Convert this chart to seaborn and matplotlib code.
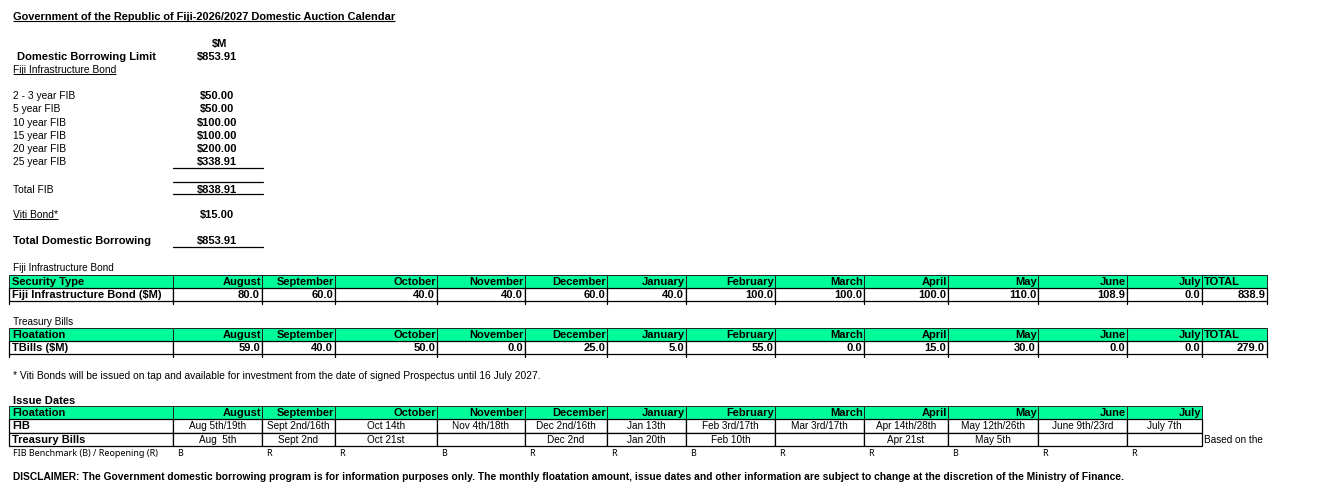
import matplotlib
matplotlib.use('Agg')
import matplotlib.pyplot as plt
from matplotlib.patches import Rectangle
import seaborn as sns

months = ['August', 'September', 'October', 'November', 'December', 'January',
          'February', 'March', 'April', 'May', 'June', 'July']
fib_amounts = [80.0, 60.0, 40.0, 40.0, 60.0, 40.0, 100.0, 100.0, 100.0, 110.0, 108.9, 0.0]
tbill_amounts = [59.0, 40.0, 50.0, 0.0, 25.0, 5.0, 55.0, 0.0, 15.0, 30.0, 0.0, 0.0]
fib_dates = ['Aug 5th/19th', 'Sept 2nd/16th', 'Oct 14th', 'Nov 4th/18th', 'Dec 2nd/16th',
             'Jan 13th', 'Feb 3rd/17th', 'Mar 3rd/17th', 'Apr 14th/28th', 'May 12th/26th',
             'June 9th/23rd', 'July 7th']
tbill_dates = ['Aug  5th', 'Sept 2nd', 'Oct 21st', '', 'Dec 2nd', 'Jan 20th', 'Feb 10th',
               '', 'Apr 21st', 'May 5th', '', '']
benchmark = ['B', 'R', 'R', 'B', 'R', 'R', 'B', 'R', 'R', 'B', 'R', 'R']
fib_tenors = ['2 - 3 year FIB', '5 year FIB', '10 year FIB', '15 year FIB',
              '20 year FIB', '25 year FIB']
fib_limits = [50.00, 50.00, 100.00, 100.00, 200.00, 338.91]
viti_bond = 15.00
borrowing_limit = 853.91

total_fib = sum(fib_limits)
total_borrowing = total_fib + viti_bond

title = 'Government of the Republic of Fiji-2026/2027 Domestic Auction Calendar'
footnote = ('* Viti Bonds will be issued on tap and available for investment from the date '
            'of signed Prospectus until 16 July 2027.')
disclaimer = ('DISCLAIMER: The Government domestic borrowing program is for information purposes '
              'only. The monthly floatation amount, issue dates and other information are subject '
              'to change at the discretion of the Ministry of Finance.')

sns.set_theme(style='white')
plt.rcParams['font.family'] = ['Liberation Sans', 'DejaVu Sans']
plt.rcParams['text.color'] = 'black'

GREEN = '#00FC98'
SANS = 'Liberation Sans'

fig = plt.figure(figsize=(13.2, 5.01), dpi=100)
ax = fig.add_axes([0, 0, 1, 1])
ax.set_xlim(0, 1320)
ax.set_ylim(501, 0)
ax.axis('off')
sns.despine(ax=ax, left=True, bottom=True)
renderer = fig.canvas.get_renderer()


def fit(s, target, **kw):
    # font size giving the pixel width seen in the reference
    t = ax.text(0, 0, s, size=10, **kw)
    w = t.get_window_extent(renderer).width
    t.remove()
    return 10 * target / w


TB = dict(family=SANS, weight='bold',
          size=fit('Fiji Infrastructure Bond ($M)', 150, family=SANS, weight='bold'))
TR = dict(family=SANS, size=fit('Sept 2nd/16th', 62, family=SANS))
AR = dict(family=SANS, size=fit(footnote, 529, family=SANS))
SM = dict(family='Noto Sans', size=fit('FIB Benchmark (B) / Reopening (R)', 145, family='Noto Sans'))

# column edges of the three month tables (pixels)
edges = [9, 173, 262, 335, 437, 525, 607, 686, 775, 864, 948, 1038, 1127, 1202, 1267]


def put(x, y, s, ha='left', **kw):
    # y is the visual middle of the capitals
    return ax.text(x, y + 3.6, s, ha=ha, va='baseline', color='black', **kw)


def underline(t, lw=0.8):
    bb = t.get_window_extent(renderer)
    inv = ax.transData.inverted()
    (x0, _), (x1, _) = inv.transform([[bb.x0, bb.y0], [bb.x1, bb.y1]])
    y = t.get_position()[1] + 1.8
    ax.plot([x0, x1], [y, y], color='black', lw=lw, solid_capstyle='butt')


def header_row(y0, y1, first, ncols):
    for i in range(ncols):
        ax.add_patch(Rectangle((edges[i], y0), edges[i + 1] - edges[i], y1 - y0,
                               facecolor=GREEN, edgecolor='#222222', lw=0.7))
    yc = (y0 + y1) / 2
    put(edges[0] + 3, yc, first, **TB)
    for i, m in enumerate(months):
        put(edges[i + 2] - 1, yc, m, ha='right', **TB)
    if ncols == 14:
        put(edges[13] + 2, yc, 'TOTAL', **TB)


def amount_row(y0, y1, label, values):
    for i in range(14):
        ax.add_patch(Rectangle((edges[i], y0), edges[i + 1] - edges[i], y1 - y0,
                               facecolor='white', edgecolor='black', lw=0.9))
        ax.plot([edges[i], edges[i]], [y1, y1 + 3], color='black', lw=0.9)
    ax.plot([edges[14], edges[14]], [y1, y1 + 3], color='black', lw=0.9)
    yc = (y0 + y1) / 2
    put(edges[0] + 3, yc, label, **TB)
    for i, v in enumerate(list(values) + [sum(values)]):
        put(edges[i + 2] - 2, yc, f'{v:.1f}', ha='right', **TB)


def date_row(y0, y1, label, dates):
    for i in range(13):
        ax.add_patch(Rectangle((edges[i], y0), edges[i + 1] - edges[i], y1 - y0,
                               facecolor='white', edgecolor='black', lw=0.9))
    yc = (y0 + y1) / 2
    put(edges[0] + 3, yc, label, **TB)
    for i, d in enumerate(dates):
        put((edges[i + 1] + edges[i + 2]) / 2, yc, d, ha='center', **TR)


# title
t = put(13, 16, title, family=SANS, weight='bold',
        size=fit(title, 383, family=SANS, weight='bold'))
underline(t)

# borrowing summary
val_x = 217
put(val_x + 3, 43, '$M', ha='center', **TB)
put(17, 56, 'Domestic Borrowing Limit', **TB)
put(val_x, 56, f'${borrowing_limit:.2f}', ha='center', **TB)
t = put(13, 69, 'Fiji Infrastructure Bond', **AR)
underline(t, lw=0.7)

for i, (name, v) in enumerate(zip(fib_tenors, fib_limits)):
    y = 95.5 + i * 13.2
    put(13, y, name, **AR)
    put(val_x, y, f'${v:.2f}', ha='center', **TB)

for y in [168, 181.5, 194, 247]:
    ax.plot([173, 263], [y, y], color='black', lw=0.9)

put(13, 189, 'Total FIB', **AR)
put(val_x, 189, f'${total_fib:.2f}', ha='center', **TB)
t = put(13, 214, 'Viti Bond*', **AR)
underline(t, lw=0.7)
put(val_x, 214, f'${viti_bond:.2f}', ha='center', **TB)
put(13, 240.5, 'Total Domestic Borrowing', **TB)
put(val_x, 240.5, f'${total_borrowing:.2f}', ha='center', **TB)

# FIB floatation table
put(13, 267, 'Fiji Infrastructure Bond', **TR)
header_row(275, 287.5, 'Security Type', 14)
amount_row(287.5, 301, 'Fiji Infrastructure Bond ($M)', fib_amounts)

# Treasury bills table
put(13, 321, 'Treasury Bills', **TR)
header_row(327.5, 341, 'Floatation', 14)
amount_row(341, 354, 'TBills ($M)', tbill_amounts)

put(13, 375, footnote, **AR)

# issue dates table
put(13, 400, 'Issue Dates', **TB)
header_row(406, 419, 'Floatation', 13)
date_row(419, 432.5, 'FIB', fib_dates)
date_row(432.5, 445.5, 'Treasury Bills', tbill_dates)
put(edges[13] + 2, 439, 'Based on the', **TR)

put(13, 452.5, 'FIB Benchmark (B) / Reopening (R)', **SM)
for i, b in enumerate(benchmark):
    put(edges[i + 1] + 4, 452.5, b, **SM)

put(13, 476, disclaimer, family=SANS, weight='bold',
    size=fit(disclaimer, 1108, family=SANS, weight='bold'))

fig.savefig('out.png', dpi=100, facecolor='white')
